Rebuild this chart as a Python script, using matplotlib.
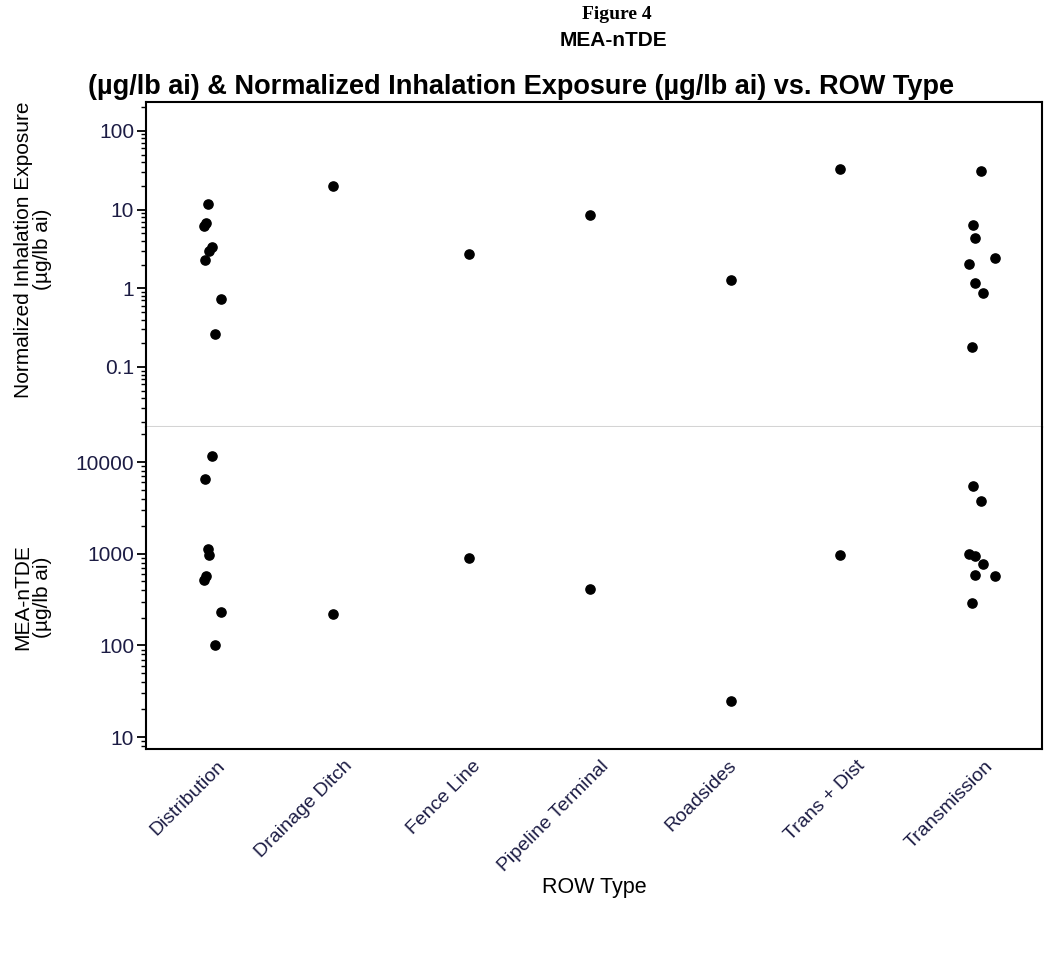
import numpy as np
import matplotlib.pyplot as plt
import matplotlib.transforms as mtransforms
from matplotlib.ticker import LogLocator, NullFormatter, FixedLocator, FixedFormatter

row_types = ['Distribution', 'Drainage Ditch', 'Fence Line', 'Pipeline Terminal',
             'Roadsides', 'Trans + Dist', 'Transmission']

# one entry per observation
obs_type = ['Distribution'] * 8 + ['Drainage Ditch', 'Fence Line', 'Pipeline Terminal',
                                   'Roadsides', 'Trans + Dist'] + ['Transmission'] * 8
obs_jitter = [-0.018, -0.031, -0.049, 0.016, -0.005, -0.037, 0.086, 0.039,
              -0.037, 0.023, -0.030, 0.070, -0.078,
              0.023, -0.037, -0.023, 0.133, -0.068, -0.023, 0.037, -0.049]
inhal = [11.7, 6.8, 6.2, 3.3, 3.0, 2.3, 0.73, 0.26,
         20.2, 2.7, 8.6, 1.28, 32.9,
         31.3, 6.45, 4.4, 2.45, 2.06, 1.15, 0.87, 0.18]
mea = [1125, 566, 513, 11600, 975, 6580, 233, 100,
       222, 898, 412, 24.8, 968,
       3780, 5470, 935, 566, 985, 590, 772, 292]

plt.rcParams['font.family'] = ['Liberation Sans', 'DejaVu Sans']
tick_col = '#1c1c44'

fig = plt.figure(figsize=(10.48, 9.56), dpi=100)
ax1 = fig.add_axes([0.1393, 0.5534, 0.855, 0.340])
ax2 = fig.add_axes([0.1393, 0.2165, 0.855, 0.3368])

xpos = np.array([row_types.index(t) for t in obs_type]) + np.array(obs_jitter)

for ax, vals, lims, ticks in [(ax1, inhal, (0.0173, 233), [0.1, 1, 10, 100]),
                              (ax2, mea, (7.4, 24100), [10, 100, 1000, 10000])]:
    ax.scatter(xpos, vals, s=44, color='black', zorder=3)
    ax.set_yscale('log')
    ax.set_ylim(*lims)
    ax.set_xlim(-0.5, 6.5)
    ax.yaxis.set_major_locator(FixedLocator(ticks))
    ax.yaxis.set_major_formatter(FixedFormatter([f'{t:g}' for t in ticks]))
    ax.yaxis.set_minor_locator(LogLocator(base=10, subs=np.arange(2, 10)))
    ax.yaxis.set_minor_formatter(NullFormatter())
    ax.tick_params(axis='y', which='major', length=6.5, width=1.3, labelsize=15,
                   labelcolor=tick_col, pad=2)
    ax.tick_params(axis='y', which='minor', length=3.5, width=1.0)
    for s in ['left', 'right', 'top', 'bottom']:
        ax.spines[s].set_linewidth(1.5)

ax1.spines['bottom'].set_color('#d4d4d4')
ax2.spines['top'].set_visible(False)
ax1.set_xticks([])

ax2.set_xticks(range(len(row_types)))
ax2.set_xticklabels(row_types, rotation=45, ha='right', rotation_mode='anchor',
                    fontsize=14, color=tick_col)
ax2.tick_params(axis='x', length=0, pad=6)
shift = mtransforms.ScaledTranslation(6 / 100, 0, fig.dpi_scale_trans)
for lab in ax2.get_xticklabels():
    lab.set_transform(lab.get_transform() + shift)

ax1.set_ylabel('Normalized Inhalation Exposure\n(µg/lb ai)', fontsize=15,
               linespacing=1.05)
ax2.set_ylabel('MEA-nTDE\n(µg/lb ai)', fontsize=15, linespacing=1.05)
ax1.yaxis.set_label_coords(-0.1045, 0.545)
ax2.yaxis.set_label_coords(-0.1045, 0.472)

fig.text(0.567, 0.0715, 'ROW Type', ha='center', va='center', fontsize=15.5)

fig.text(0.589, 0.985, 'Figure 4', ha='center', va='center', fontsize=14,
         fontweight='bold', family='Liberation Serif')
fig.text(0.585, 0.958, 'MEA-nTDE', ha='center', va='center', fontsize=15,
         fontweight='bold')
fig.text(0.497, 0.909, '(µg/lb ai) & Normalized Inhalation Exposure (µg/lb ai) vs. ROW Type',
         ha='center', va='center', fontsize=19.5, fontweight='bold')

fig.savefig('out.png', dpi=100)
